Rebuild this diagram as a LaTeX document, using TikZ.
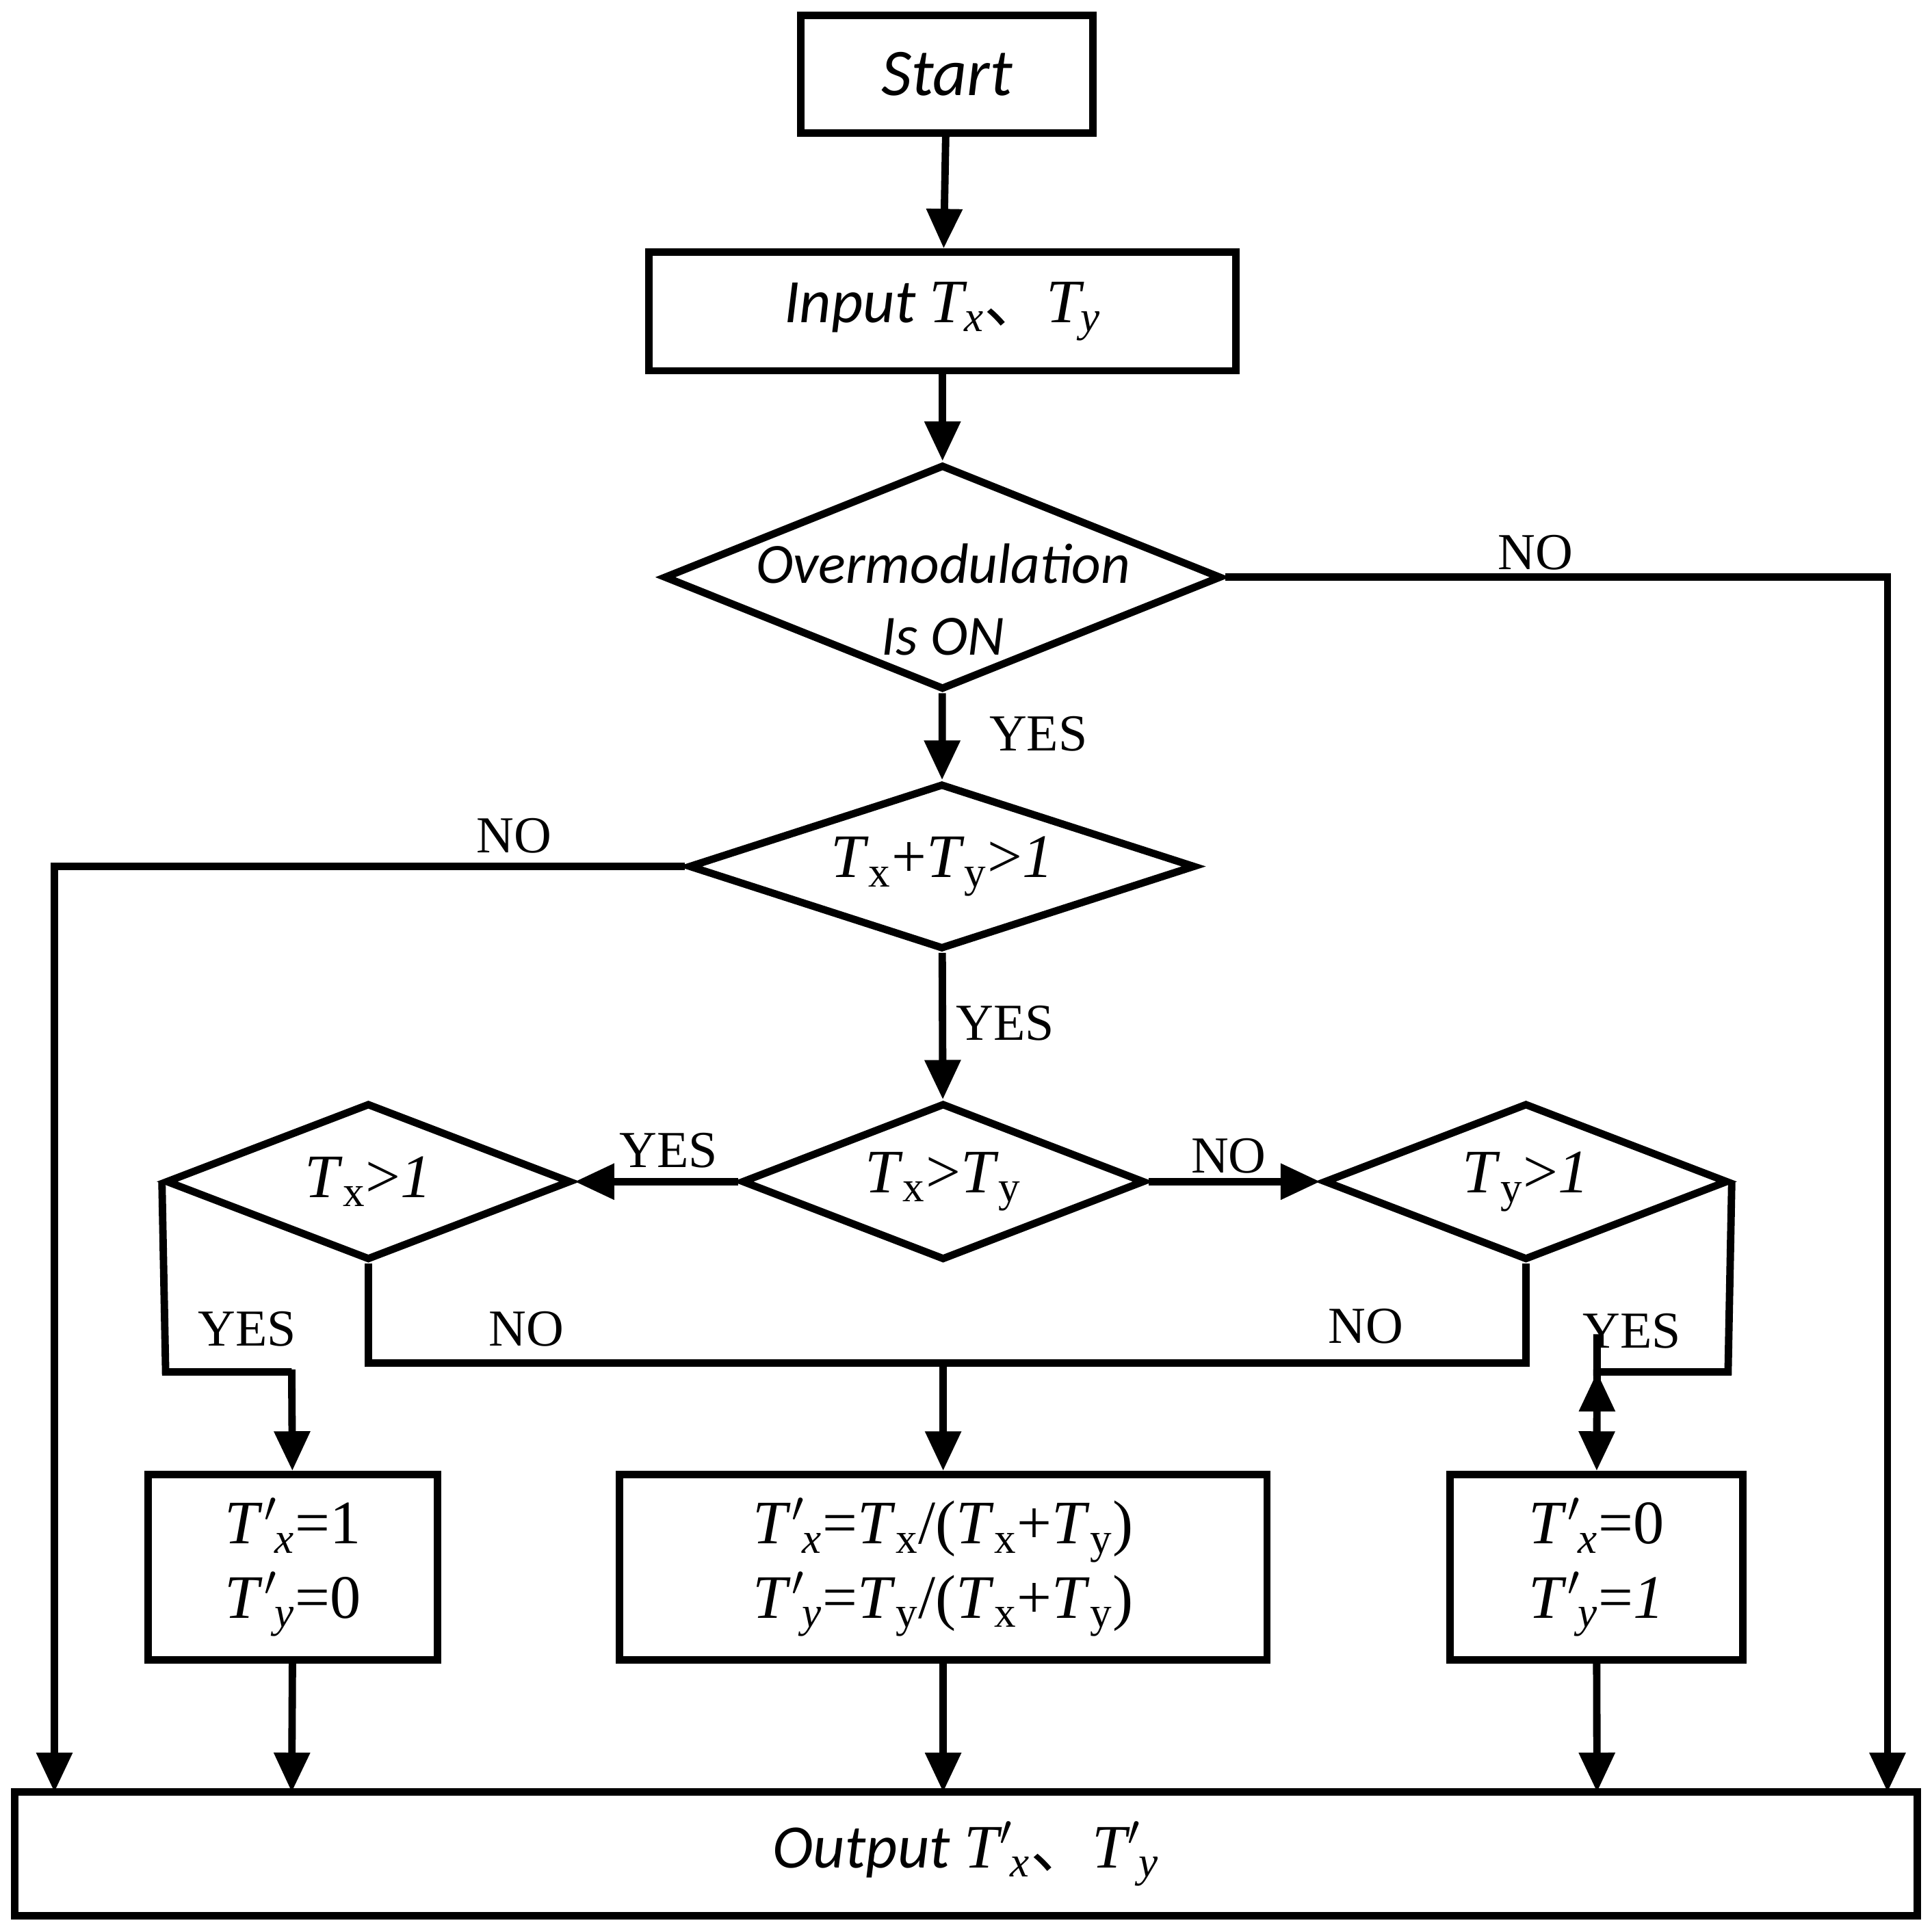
\documentclass[tikz,border=0pt]{standalone}
\usepackage{fontspec}
\setmainfont{Liberation Serif}
\newfontfamily\carl{Carlito}
\newfontfamily\cjkf{Noto Sans CJK SC}
\usetikzlibrary{shapes.geometric,arrows.meta}
\newcommand\Tsub[1]{\textit{T}\textsubscript{#1}}
\newcommand\Tpr[1]{\textit{T}\kern0.5pt$'$\kern-1pt\textsubscript{\textit{#1}}}
\begin{document}
\begin{tikzpicture}[x=0.5pt,y=-0.5pt,line width=3pt,
 box/.style={draw,rectangle,inner sep=0pt},
 dia/.style={draw,diamond,inner sep=0pt},
 arr/.style={-{Triangle[length=16pt,width=14pt]}},
 lab/.style={font=\fontsize{21}{24}\selectfont},
 txt/.style={font=\fontsize{25}{30}\selectfont,align=center}]
\useasboundingbox (0,0) rectangle (1563,1557);
\node[box,minimum width=118pt,minimum height=47.5pt] (start) at (766,60) {\carl\itshape\fontsize{27}{30}\selectfont Start};
\node[box,minimum width=237.5pt,minimum height=48pt] (inp) at (762.5,252) {\fontsize{25}{30}\selectfont\carl\itshape Input \rmfamily\Tsub{x}{\cjkf 、}\Tsub{y}};
\node[dia,minimum width=225.5pt,minimum height=91pt] (d1) at (762.5,467) {};
\node[font=\carl\itshape\fontsize{23}{27}\selectfont,align=center] at (763,485) {Overmodulation\\[2pt]Is ON};
\node[dia,minimum width=205pt,minimum height=67pt] (d2) at (762,701) {};
\node[txt] at (762,701) {\Tsub{x}+\Tsub{y}>\textit{1}};
\node[dia,minimum width=163pt,minimum height=63.5pt] (d3) at (763,956) {};
\node[txt] at (763,956) {\Tsub{x}>\Tsub{y}};
\node[dia,minimum width=164pt,minimum height=63.5pt] (dl) at (298,956) {};
\node[txt] at (298,956) {\Tsub{x}>\textit{1}};
\node[dia,minimum width=163.5pt,minimum height=63.5pt] (dr) at (1234.5,956) {};
\node[txt] at (1234.5,956) {\Tsub{y}>\textit{1}};
\node[box,minimum width=117pt,minimum height=75pt,txt] (bl) at (237,1268) {\Tpr{x}=1\\\Tpr{y}=0};
\node[box,minimum width=262pt,minimum height=75pt,txt] (bm) at (763,1268) {\Tpr{x}=\Tsub{x}/(\Tsub{x}+\Tsub{y})\\\Tpr{y}=\Tsub{y}/(\Tsub{x}+\Tsub{y})};
\node[box,minimum width=118.5pt,minimum height=75pt,txt] (br) at (1291.5,1268) {\Tpr{x}=0\\\Tpr{y}=\textit{1}};
\node[box,minimum width=769.5pt,minimum height=50pt] (out) at (781.5,1500) {\fontsize{25}{30}\selectfont\carl\itshape Output \rmfamily\Tpr{x}{\cjkf 、}\Tpr{y}};
\coordinate (jm) at (763,1103);
\coordinate (jl) at (134,1110);
\coordinate (jr) at (1398,1110);
\draw[arr] (start) -- (inp);
\draw[arr] (inp) -- (d1);
\draw[arr] (d1) -- (d2);
\draw[arr] (d2) -- (d3);
\draw[arr] (d1.east) -| (1527,1450);
\draw[arr] (d2.west) -| (44,1450);
\draw[arr] (d3.west) -- (dl.east);
\draw[arr] (d3.east) -- (dr.west);
\draw (dl.west) -- (jl) -| (236,1110);
\draw[arr] (236,1108) -- (bl);
\draw[arr] (dr.east) -- (jr) -| (1292,1110);
\draw[arr] (1292,1108) -- (br);
\draw (dl.south) |- (jm) -| (dr.south);
\draw[arr] (jm) -- (bm);
\draw[arr] (bl) -- (236,1450);
\draw[arr] (bm) -- (763,1450);
\draw[arr] (br) -- (1292,1450);
\node[lab] at (1242,447) {NO};
\node[lab] at (840,594) {YES};
\node[lab] at (416,676) {NO};
\node[lab] at (813,828) {YES};
\node[lab] at (541,931) {YES};
\node[lab] at (994,935) {NO};
\node[lab] at (200,1075) {YES};
\node[lab] at (426,1075) {NO};
\node[lab] at (1105,1073) {NO};
\node[lab] at (1320,1077) {YES};
\end{tikzpicture}
\end{document}
